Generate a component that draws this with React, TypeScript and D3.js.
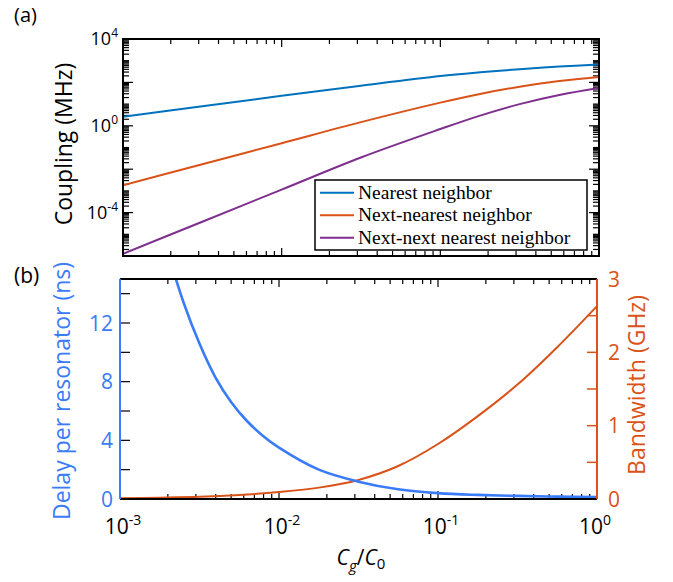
import React from "react";
import * as d3 from "d3";

// ---------- data ----------
// Panel (a): coupling (MHz) vs Cg/C0
const cgTop = [0.001, 0.00316, 0.01, 0.0316, 0.1, 0.178, 0.316, 0.562, 1];
const nearest = [2.63, 7.9, 24, 70, 195, 290, 407, 537, 661];
const nextNearest = [0.00182, 0.017, 0.158, 1.48, 11.7, 29.5, 63, 115, 178];
const nextNext = [1.26e-6, 3.8e-5, 1.15e-3, 0.0347, 0.708, 2.95, 10.0, 26.3, 55];
const legendLabels = ["Nearest neighbor", "Next-nearest neighbor", "Next-next nearest neighbor"];

// Panel (b): delay (ns) and bandwidth (GHz)
const cgBand = [0.001, 0.00178, 0.00316, 0.00562, 0.01, 0.0178, 0.0316, 0.0562, 0.1, 0.178, 0.316, 0.562, 1];
const bandwidth = [0.01, 0.018, 0.03, 0.055, 0.095, 0.155, 0.26, 0.45, 0.75, 1.13, 1.56, 2.07, 2.63];
const cgDelay = [0.002, 0.00251, 0.00316, 0.00398, 0.00501, 0.00631, 0.00794, 0.01, 0.0178, 0.0316, 0.0562, 0.1, 0.178, 0.316, 0.562, 1];
const delay = [16.8, 13.4, 10.6, 8.3, 6.6, 5.3, 4.3, 3.5, 2.0, 1.18, 0.66, 0.4, 0.28, 0.21, 0.16, 0.14];

const xTickExps = [-3, -2, -1, 0];
const yTopLabelExps = [4, 0, -4];
const delayTicks = [0, 4, 8, 12];
const delayMinor = [2, 6, 10, 14];
const bandTicks = [0, 1, 2, 3];
const bandMinor = [0.5, 1.5, 2.5];

const C_BLUE = "#0072BD";
const C_ORANGE = "#D95319";
const C_PURPLE = "#7E2F8E";
const C_BBLUE = "#3A7BF7";
const SANS = "'Open Sans', 'Noto Sans', sans-serif";
const SERIF = "'Liberation Serif', 'DejaVu Serif', serif";

function logTicks(e0: number, e1: number) {
  const out: { v: number; major: boolean; exp: number }[] = [];
  for (let e = e0; e <= e1; e++) {
    for (let k = 1; k <= 9; k++) {
      if (e === e1 && k > 1) break;
      out.push({ v: k * Math.pow(10, e), major: k === 1, exp: e });
    }
  }
  return out;
}

export default function App() {
  const xTop = d3.scaleLog().domain([1e-3, 1]).range([123, 599]);
  const yTop = d3.scaleLog().domain([1e-6, 1e4]).range([256, 39]);
  const xBot = d3.scaleLog().domain([1e-3, 1]).range([120, 597]);
  const yL = d3.scaleLinear().domain([0, 15]).range([499, 279]);
  const yR = d3.scaleLinear().domain([0, 3]).range([499, 279]);

  const curve = d3.curveCatmullRom.alpha(0.5);
  const topLine = (ys: number[]) =>
    d3.line<number>().x((_, i) => xTop(cgTop[i])).y((d) => yTop(d)).curve(curve)(ys) || "";
  const bandPath =
    d3.line<number>().x((_, i) => xBot(cgBand[i])).y((d) => yR(d)).curve(curve)(bandwidth) || "";
  const delayPath =
    d3.line<number>().x((_, i) => xBot(cgDelay[i])).y((d) => yL(d)).curve(curve)(delay) || "";

  const xT = logTicks(-3, 0);
  const yT = logTicks(-6, 4);

  const [tx0, tx1] = xTop.range();
  const [ty0, ty1] = [yTop.range()[1], yTop.range()[0]];
  const [bx0, bx1] = xBot.range();
  const [by0, by1] = [yL.range()[1], yL.range()[0]];

  const tickW = 1.2;

  return (
    <svg width={673} height={582} style={{ position: "absolute", left: 0, top: 0, background: "#fff" }}>
      <defs>
        <clipPath id="clipTop">
          <rect x={tx0} y={ty0} width={tx1 - tx0} height={ty1 - ty0} />
        </clipPath>
        <clipPath id="clipBot">
          <rect x={bx0} y={by0} width={bx1 - bx0} height={by1 - by0} />
        </clipPath>
      </defs>

      {/* ---------- Panel (a) ---------- */}
      <text x={14} y={22} fontFamily={SANS} fontSize={20} fill="#000">(a)</text>

      {xT.map((t, i) => {
        const x = xTop(t.v);
        const L = t.major ? 8 : 5;
        return (
          <g key={"xt" + i} stroke="#000" strokeWidth={tickW}>
            <line x1={x} x2={x} y1={ty1} y2={ty1 - L} />
            <line x1={x} x2={x} y1={ty0} y2={ty0 + L} />
          </g>
        );
      })}
      {yT.map((t, i) => {
        const y = yTop(t.v);
        const L = t.major && t.exp % 2 === 0 ? 10 : 6;
        return (
          <g key={"yt" + i} stroke="#000" strokeWidth={tickW}>
            <line x1={tx0} x2={tx0 + L} y1={y} y2={y} />
            <line x1={tx1} x2={tx1 - L} y1={y} y2={y} />
          </g>
        );
      })}
      {yTopLabelExps.map((e) => (
        <text key={"yl" + e} x={118} y={yTop(Math.pow(10, e)) + 6} textAnchor="end" fontFamily={SANS} fontSize={18} fill="#000">
          10<tspan dy={-8} fontSize={12}>{e}</tspan>
        </text>
      ))}

      <g clipPath="url(#clipTop)" fill="none" strokeWidth={2}>
        <path d={topLine(nearest)} stroke={C_BLUE} />
        <path d={topLine(nextNearest)} stroke={C_ORANGE} />
        <path d={topLine(nextNext)} stroke={C_PURPLE} />
      </g>

      <rect x={tx0} y={ty0} width={tx1 - tx0} height={ty1 - ty0} fill="none" stroke="#000" strokeWidth={2} />

      <text transform={`translate(72,144) rotate(-90)`} textAnchor="middle" fontFamily={SANS} fontSize={23} fill="#000">
        Coupling (MHz)
      </text>

      <g>
        <rect x={315} y={180} width={272} height={70} fill="#fff" stroke="#000" strokeWidth={1.5} />
        {legendLabels.map((lab, i) => {
          const y = 192.7 + i * 22.5;
          const col = [C_BLUE, C_ORANGE, C_PURPLE][i];
          return (
            <g key={lab}>
              <line x1={320} x2={354} y1={y} y2={y} stroke={col} strokeWidth={2} />
              <text x={358} y={y + 6} fontFamily={SERIF} fontSize={19.5} fill="#000">{lab}</text>
            </g>
          );
        })}
      </g>

      {/* ---------- Panel (b) ---------- */}
      <text x={14} y={283} fontFamily={SANS} fontSize={21} fill="#000">(b)</text>

      {xT.map((t, i) => {
        const x = xBot(t.v);
        const L = t.major ? 8 : 5;
        return (
          <g key={"bxt" + i} stroke="#000" strokeWidth={tickW}>
            <line x1={x} x2={x} y1={by1} y2={by1 - L} />
            <line x1={x} x2={x} y1={by0} y2={by0 + L} />
          </g>
        );
      })}
      {xTickExps.map((e) => (
        <text key={"bxl" + e} x={xBot(Math.pow(10, e)) + (e === 0 ? -2 : 3)} y={534} textAnchor="middle" fontFamily={SANS} fontSize={21} fill="#000">
          10<tspan dy={-9} fontSize={14}>{e}</tspan>
        </text>
      ))}

      {[...delayTicks, ...delayMinor].map((v) => (
        <line key={"lt" + v} x1={bx0} x2={bx0 + 10} y1={yL(v)} y2={yL(v)} stroke="#000" strokeWidth={tickW} />
      ))}
      {delayTicks.map((v) => (
        <text key={"ll" + v} x={113} y={yL(v) + 7.5} textAnchor="end" fontFamily={SANS} fontSize={21} fill={C_BBLUE}>
          {v}
        </text>
      ))}
      {[...bandTicks, ...bandMinor].map((v) => (
        <line key={"rt" + v} x1={bx1} x2={bx1 - 10} y1={yR(v)} y2={yR(v)} stroke={C_ORANGE} strokeWidth={tickW + 0.3} />
      ))}
      {bandTicks.map((v) => (
        <text key={"rl" + v} x={608} y={yR(v) + 7.5} textAnchor="start" fontFamily={SANS} fontSize={21} fill={C_ORANGE}>
          {v}
        </text>
      ))}

      <g clipPath="url(#clipBot)" fill="none">
        <path d={bandPath} stroke={C_ORANGE} strokeWidth={2} />
        <path d={delayPath} stroke={C_BBLUE} strokeWidth={2.6} />
      </g>

      <line x1={bx0} x2={bx1} y1={by0} y2={by0} stroke="#000" strokeWidth={2} />
      <line x1={bx0} x2={bx1} y1={by1} y2={by1} stroke="#000" strokeWidth={2} />
      <line x1={bx0} x2={bx0} y1={by0} y2={by1} stroke={C_BBLUE} strokeWidth={2} />
      <line x1={bx1} x2={bx1} y1={by0} y2={by1} stroke={C_ORANGE} strokeWidth={2} />

      <text transform={`translate(70,391) rotate(-90)`} textAnchor="middle" fontFamily={SANS} fontSize={23} fill={C_BBLUE}>
        Delay per resonator (ns)
      </text>
      <text transform={`translate(645,385) rotate(-90)`} textAnchor="middle" fontFamily={SANS} fontSize={23} fill={C_ORANGE}>
        Bandwidth (GHz)
      </text>

      <text x={361} y={565} textAnchor="middle" fontFamily={SANS} fontSize={21} fill="#000">
        <tspan fontStyle="italic">C</tspan>
        <tspan fontStyle="italic" fontSize={15} dy={6}>g</tspan>
        <tspan dy={-6}>/</tspan>
        <tspan fontStyle="italic">C</tspan>
        <tspan fontSize={15} dy={4}>0</tspan>
      </text>
    </svg>
  );
}
